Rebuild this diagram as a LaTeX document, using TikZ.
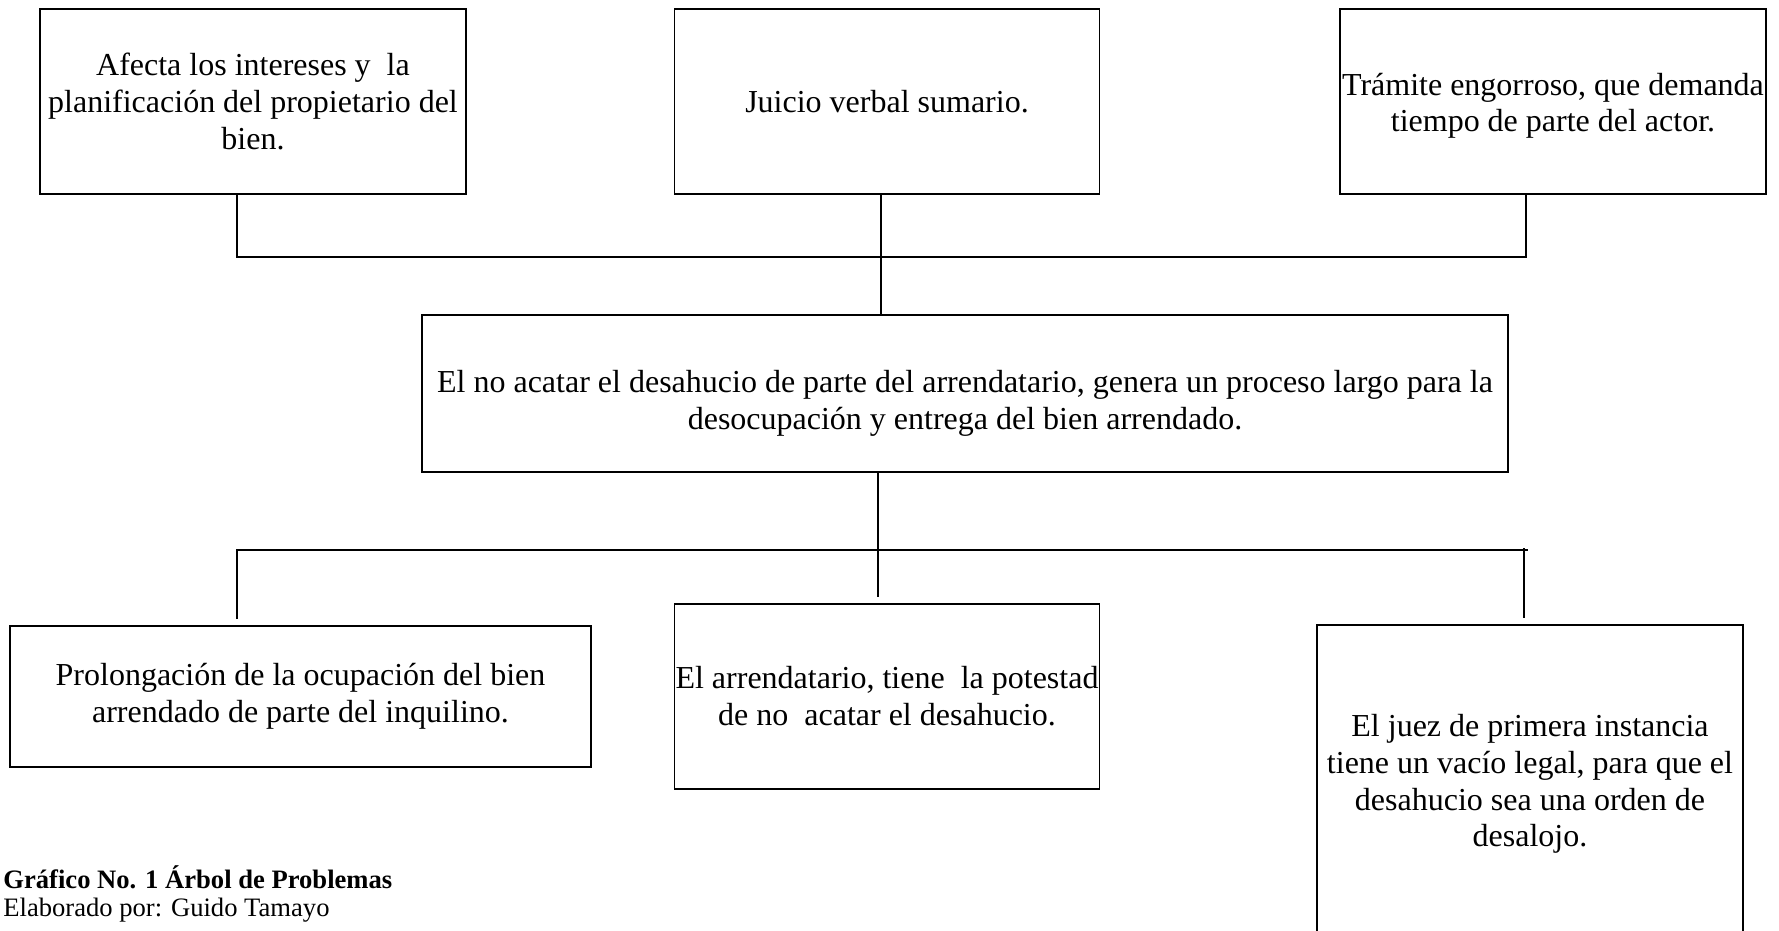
\documentclass[tikz,border=0pt]{standalone}
\usepackage{fontspec}
\setmainfont{Liberation Serif}
\usetikzlibrary{positioning, calc}

\tikzset{
  caja/.style={draw, line width=0.9pt, align=center, inner sep=0pt,
    font=\fontsize{16}{18.4}\selectfont},
  enlace/.style={line width=0.9pt},
}

\begin{document}
\begin{tikzpicture}[x=0.5pt, y=-0.5pt]
    \useasboundingbox (0,0) rectangle (1779,931);

    % Efectos (arriba)
    \node[caja, minimum width=213pt, minimum height=92.5pt] (afecta) at (253,101.5)
        {Afecta los intereses y\ \ la\\planificación del propietario del\\bien.};
    \node[caja, minimum width=212.5pt, minimum height=92.5pt] (juicio) at (887,101.5)
        {Juicio verbal sumario.};
    \node[caja, minimum width=213pt, minimum height=92.5pt] (tramite) at (1553,101.5)
        {\rule{0pt}{15.5pt}Trámite engorroso, que demanda\\tiempo de parte del actor.};

    % Problema central
    \node[caja, minimum width=543pt, minimum height=78.5pt] (problema) at (965,393.5)
        {\rule{0pt}{21pt}El no acatar el desahucio de parte del arrendatario, genera un proceso largo para la\\desocupación y entrega del bien arrendado.};

    % Causas (abajo)
    \node[caja, minimum width=290.5pt, minimum height=70.5pt] (prolonga) at (300.5,696.5)
        {Prolongación de la ocupación del bien\\arrendado de parte del inquilino.};
    \node[caja, minimum width=212.5pt, minimum height=92.5pt] (potestad) at (887,696.5)
        {El arrendatario, tiene\ \ la potestad\\de no\ \ acatar el desahucio.};
    \node[caja, minimum width=212.75pt, minimum height=159pt] (juez) at (1530,784)
        {El juez de primera instancia\\tiene un vacío legal, para que el\\desahucio sea una orden de\\desalojo.};

    % Conectores de arriba
    \coordinate (tl) at (237,257);
    \coordinate (tc) at (881,257);
    \coordinate (tr) at (1526,257);
    \draw[enlace] (tl |- afecta.south) -- (tl) -- (tr) -- (tr |- tramite.south);
    \draw[enlace] (tc |- juicio.south) -- (tc |- problema.north);

    % Conectores de abajo
    \coordinate (bl) at (237,550);
    \coordinate (br) at (1528,550);
    \coordinate (bl-fin) at (237,619);
    \coordinate (bc-fin) at (878,597);
    \coordinate (br-ini) at (1524,548);
    \coordinate (br-fin) at (1524,618);
    \draw[enlace] (bl-fin) -- (bl) -- (br);
    \draw[enlace] (br-ini) -- (br-fin);
    \draw[enlace] (problema.south -| bc-fin) -- (bc-fin);

    % Pie
    \node[anchor=base west, inner sep=0pt, font=\fontsize{13.3}{15}\selectfont\bfseries] (titulo) at (3,888)
        {Gráfico No. 1 Árbol de Problemas};
    \node[anchor=base west, inner sep=0pt, font=\fontsize{13.3}{15}\selectfont] (autor) at (3,916)
        {Elaborado por: Guido Tamayo};
\end{tikzpicture}
\end{document}
